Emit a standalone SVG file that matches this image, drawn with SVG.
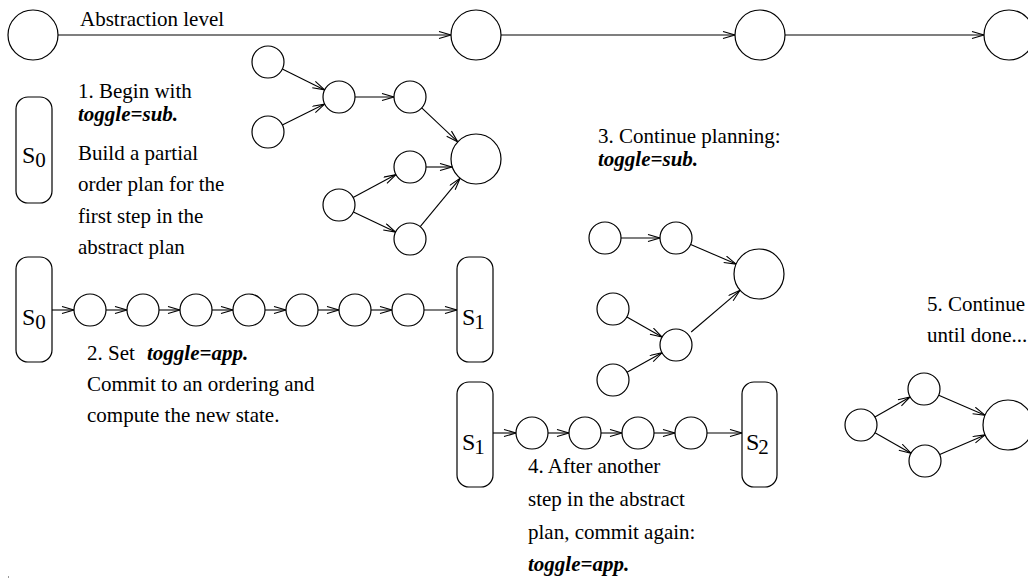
<svg xmlns="http://www.w3.org/2000/svg" width="1028" height="580" viewBox="0 0 1028 580">
<style>
.n{fill:#fff;stroke:#000;stroke-width:1.2}
.b{fill:#fff;stroke:#000;stroke-width:1.2}
.e{stroke:#000;stroke-width:1.1;fill:none;marker-end:url(#ah)}
.t{font-family:"Liberation Serif","Times New Roman",serif;font-size:21px;fill:#000}
.bi{font-weight:bold;font-style:italic}
.s{font-family:"Liberation Serif","Times New Roman",serif;font-size:24px;fill:#000}
</style>
<defs>
<marker id="ah" markerWidth="16" markerHeight="10" refX="13" refY="4" orient="auto" markerUnits="userSpaceOnUse">
<path d="M1,0.5 L13,4 L1,7.5" fill="none" stroke="#000" stroke-width="1.1"/>
</marker>
</defs>
<rect width="1028" height="580" fill="#fff"/>
<g id="connectors">
<line class="e" x1="58" y1="35" x2="451" y2="35"/>
<line class="e" x1="501" y1="35" x2="735" y2="35"/>
<line class="e" x1="785" y1="35" x2="984" y2="35"/>
<line class="e" x1="282.3" y1="69.1" x2="324.6" y2="89.9"/>
<line class="e" x1="282.3" y1="124.9" x2="324.6" y2="104.1"/>
<line class="e" x1="355" y1="97" x2="394" y2="97"/>
<line class="e" x1="421.7" y1="107.9" x2="457.8" y2="141.9"/>
<line class="e" x1="426" y1="167" x2="452" y2="167"/>
<line class="e" x1="353.1" y1="197.4" x2="395.9" y2="174.6"/>
<line class="e" x1="353.4" y1="211.9" x2="395.6" y2="232.1"/>
<line class="e" x1="420.2" y1="226.7" x2="460.1" y2="178.3"/>
<line class="e" x1="52" y1="310" x2="74" y2="310"/>
<line class="e" x1="106" y1="310" x2="127" y2="310"/>
<line class="e" x1="159" y1="310" x2="180" y2="310"/>
<line class="e" x1="212" y1="310" x2="233" y2="310"/>
<line class="e" x1="265" y1="310" x2="286" y2="310"/>
<line class="e" x1="318" y1="310" x2="339" y2="310"/>
<line class="e" x1="371" y1="310" x2="392" y2="310"/>
<line class="e" x1="424" y1="310" x2="457" y2="310"/>
<line class="e" x1="621" y1="238" x2="660" y2="238"/>
<line class="e" x1="690.7" y1="244.4" x2="736.1" y2="264.1"/>
<line class="e" x1="626.9" y1="316.9" x2="662.1" y2="337.1"/>
<line class="e" x1="627" y1="372.2" x2="662" y2="352.8"/>
<line class="e" x1="691.2" y1="332" x2="740" y2="290.3"/>
<line class="e" x1="493" y1="433" x2="516" y2="433"/>
<line class="e" x1="548" y1="433" x2="569" y2="433"/>
<line class="e" x1="601" y1="433" x2="622" y2="433"/>
<line class="e" x1="654" y1="433" x2="675" y2="433"/>
<line class="e" x1="707" y1="433" x2="742" y2="433"/>
<line class="e" x1="874.9" y1="417.1" x2="910.1" y2="396.9"/>
<line class="e" x1="875" y1="432.8" x2="911" y2="453.2"/>
<line class="e" x1="938.7" y1="395.3" x2="985" y2="415.2"/>
<line class="e" x1="939.7" y1="454.6" x2="985.1" y2="434.9"/>
</g>
<g id="top1"><circle class="n" cx="33" cy="35" r="25"/></g>
<g id="top2"><circle class="n" cx="476" cy="35" r="25"/></g>
<g id="top3"><circle class="n" cx="760" cy="35" r="25"/></g>
<g id="top4"><circle class="n" cx="1009" cy="35" r="25"/></g>
<g id="label-abstraction"><text class="t" x="80" y="26">Abstraction level</text></g>
<g id="p1a"><circle class="n" cx="268" cy="62" r="16"/></g>
<g id="p1b"><circle class="n" cx="268" cy="132" r="16"/></g>
<g id="p1c"><circle class="n" cx="339" cy="97" r="16"/></g>
<g id="p1d"><circle class="n" cx="410" cy="97" r="16"/></g>
<g id="p1e"><circle class="n" cx="476" cy="159" r="25"/></g>
<g id="p1f"><circle class="n" cx="410" cy="167" r="16"/></g>
<g id="p1g"><circle class="n" cx="339" cy="205" r="16"/></g>
<g id="p1h"><circle class="n" cx="410" cy="239" r="16"/></g>
<g id="s0a"><rect class="b" x="16" y="97" width="36" height="106" rx="12"/><text class="s" x="22" y="163">S<tspan font-size="21" dy="4">0</tspan></text></g>
<g id="text1"><text class="t" x="78" y="98">1. Begin with</text><text class="t bi" x="78" y="121">toggle=sub.</text><text class="t" x="78" y="160">Build a partial</text><text class="t" x="78" y="191">order plan for the</text><text class="t" x="78" y="223">first step in the</text><text class="t" x="78" y="254">abstract plan</text></g>
<g id="s0b"><rect class="b" x="16" y="257" width="36" height="105" rx="12"/><text class="s" x="22" y="325">S<tspan font-size="21" dy="4">0</tspan></text></g>
<g id="r2c1"><circle class="n" cx="90" cy="310" r="16"/></g>
<g id="r2c2"><circle class="n" cx="143" cy="310" r="16"/></g>
<g id="r2c3"><circle class="n" cx="196" cy="310" r="16"/></g>
<g id="r2c4"><circle class="n" cx="249" cy="310" r="16"/></g>
<g id="r2c5"><circle class="n" cx="302" cy="310" r="16"/></g>
<g id="r2c6"><circle class="n" cx="355" cy="310" r="16"/></g>
<g id="r2c7"><circle class="n" cx="408" cy="310" r="16"/></g>
<g id="s1a"><rect class="b" x="457" y="257" width="36" height="105" rx="12"/><text class="s" x="462" y="325">S<tspan font-size="21" dx="-1" dy="4">1</tspan></text></g>
<g id="text2"><text class="t" x="87" y="360">2. Set <tspan class="bi" x="147">toggle=app.</tspan></text><text class="t" x="87" y="391">Commit to an ordering and</text><text class="t" x="87" y="422">compute the new state.</text></g>
<g id="text3"><text class="t" x="598" y="143">3. Continue planning:</text><text class="t bi" x="598" y="166">toggle=sub.</text></g>
<g id="p3a"><circle class="n" cx="605" cy="238" r="16"/></g>
<g id="p3b"><circle class="n" cx="676" cy="238" r="16"/></g>
<g id="p3c"><circle class="n" cx="759" cy="274" r="25"/></g>
<g id="p3d"><circle class="n" cx="613" cy="309" r="16"/></g>
<g id="p3e"><circle class="n" cx="676" cy="345" r="16"/></g>
<g id="p3f"><circle class="n" cx="613" cy="380" r="16"/></g>
<g id="s1b"><rect class="b" x="457" y="382" width="36" height="105" rx="12"/><text class="s" x="462" y="450">S<tspan font-size="21" dx="-1" dy="4">1</tspan></text></g>
<g id="r4c1"><circle class="n" cx="532" cy="433" r="16"/></g>
<g id="r4c2"><circle class="n" cx="585" cy="433" r="16"/></g>
<g id="r4c3"><circle class="n" cx="638" cy="433" r="16"/></g>
<g id="r4c4"><circle class="n" cx="691" cy="433" r="16"/></g>
<g id="s2"><rect class="b" x="742" y="382" width="35" height="105" rx="12"/><text class="s" x="746" y="450">S<tspan font-size="21" dx="-1" dy="4">2</tspan></text></g>
<g id="text4"><text class="t" x="528" y="473">4. After another</text><text class="t" x="528" y="506">step in the abstract</text><text class="t" x="528" y="539">plan, commit again:</text><text class="t bi" x="528" y="571">toggle=app.</text></g>
<g id="text5"><text class="t" x="927" y="311">5. Continue</text><text class="t" x="927" y="342">until done...</text></g>
<g id="p5a"><circle class="n" cx="861" cy="425" r="16"/></g>
<g id="p5b"><circle class="n" cx="924" cy="389" r="16"/></g>
<g id="p5c"><circle class="n" cx="925" cy="461" r="16"/></g>
<g id="p5d"><circle class="n" cx="1008" cy="425" r="25"/></g>
<rect x="8" y="576" width="1" height="2" fill="#999"/>
</svg>
